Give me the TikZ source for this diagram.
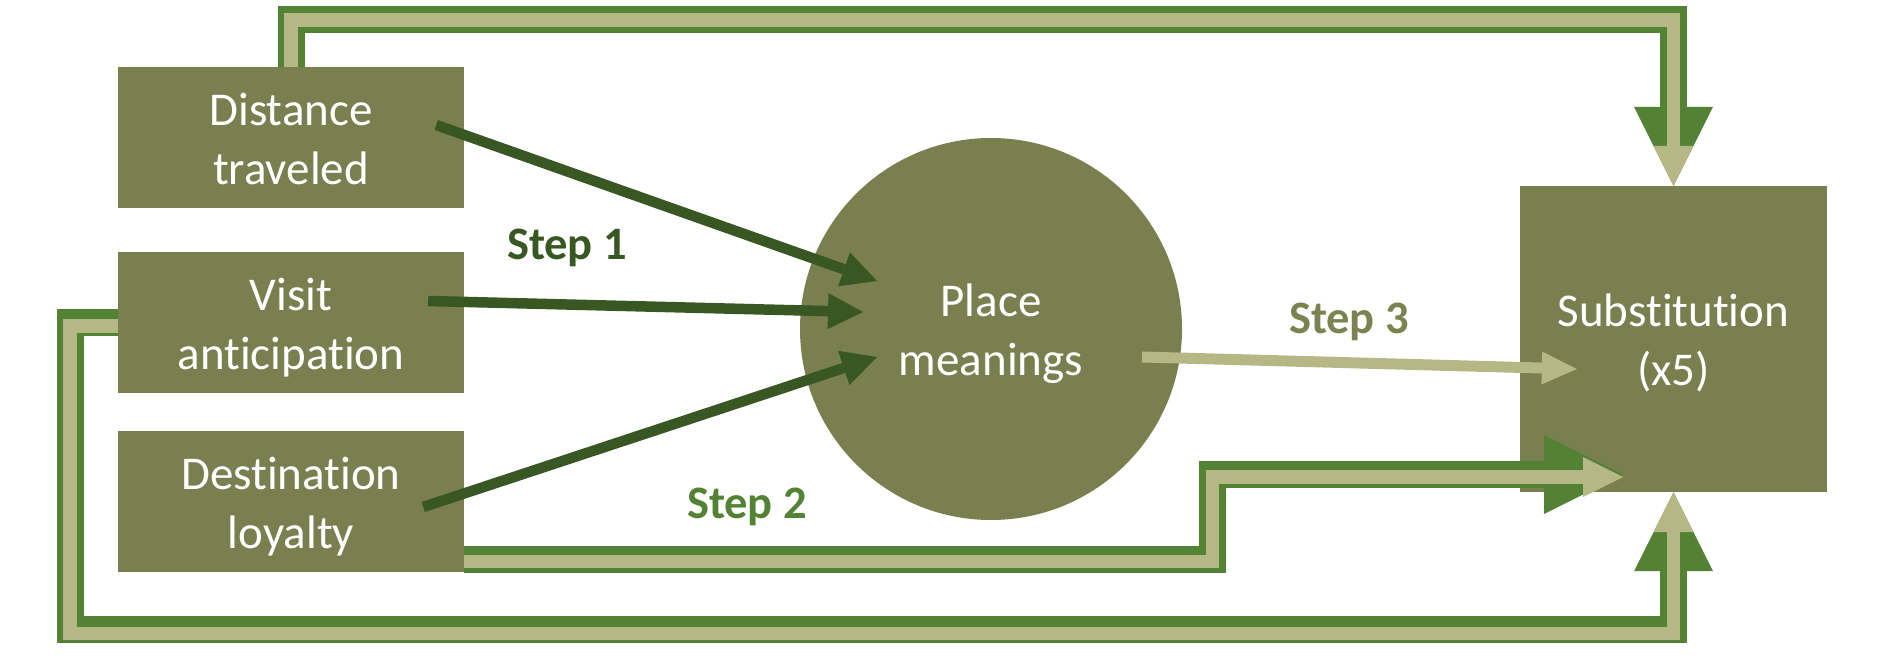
\documentclass[tikz,border=0pt]{standalone}
\usepackage{fontspec}
\setmainfont{Carlito}[Ligatures=NoCommon]
\usetikzlibrary{arrows.meta,calc}
\definecolor{boxc}{HTML}{7A7F50}
\definecolor{darkg}{HTML}{385723}
\definecolor{midg}{HTML}{548235}
\definecolor{lightg}{HTML}{B5B885}
\definecolor{stepthree}{HTML}{7D8251}
\newcommand\tstrut{\rule[-12pt]{0pt}{58pt}}
\begin{document}
\begin{tikzpicture}[x=1pt,y=-1pt,
  boxnode/.style={rectangle, fill=boxc, text=white, align=center, inner sep=0pt,
    minimum width=346pt, minimum height=141pt, font=\fontsize{47}{57}\selectfont},
  bigdark/.style={draw=midg, line width=27pt,
    -{Triangle[length=79pt,width=79pt,line width=0pt]}},
  biglight/.style={draw=lightg, line width=13.5pt,
    -{Triangle[length=40pt,width=40pt,line width=0pt]}},
  steparrow/.style={draw=darkg, line width=10.5pt,
    -{Triangle[length=35pt,width=36pt,line width=0pt]}},
  stepthreearrow/.style={draw=lightg, line width=11pt,
    -{Triangle[length=35pt,width=33pt,line width=0pt]}},
  steplabel/.style={anchor=base, font=\fontsize{46.5}{55}\selectfont\bfseries},
]
\useasboundingbox (0,0) rectangle (1889,658);

% nodes
\node[boxnode] (dt) at (291,137.5) {\tstrut Distance\\traveled\tstrut};
\node[boxnode] (va) at (291,322.5) {\tstrut Visit\\anticipation\tstrut};
\node[boxnode] (dl) at (291,501.5) {\tstrut Destination\\loyalty\tstrut};
\node[circle, fill=boxc, text=white, align=center, inner sep=0pt, minimum size=382pt,
  font=\fontsize{47}{57}\selectfont] (pm) at (991,329) {\tstrut Place\\meanings\tstrut};
\node[rectangle, fill=boxc, text=white, align=center, inner sep=0pt,
  minimum width=307pt, minimum height=306pt,
  font=\fontsize{47}{57}\selectfont] (sub) at (1673.5,339) {\tstrut Substitution\\(x5)\tstrut};

% helper coordinates
\coordinate (topy) at (0,20);
\coordinate (lx) at (70,0);
\coordinate (boty) at (0,629.5);
\coordinate (botyl) at (0,633.5);
\coordinate (s2x) at (1212.5,0);
\coordinate (s2tip) at (1623,474.5);
\coordinate (s2tipl) at (1623,477);

% top loop (distance traveled -> substitution)
\draw[bigdark] (dt.north) -- (dt.north |- topy) -| (sub.north);
\draw[biglight] (dt.north) -- (dt.north |- topy) -| (sub.north);

% left loop (visit anticipation -> substitution)
\draw[bigdark] (va.west) -- (lx |- va.west) -- (lx |- boty) -| (sub.south);
\draw[biglight] ($(va.west)+(0,3.5)$) -- ($(lx |- va.west)+(0,3.5)$) -- (lx |- botyl) -| (sub.south);

% step 2 (destination loyalty -> substitution)
\coordinate (s2a) at ($(dl.south east)+(0,-12.5)$);
\coordinate (s2al) at ($(dl.south east)+(0,-10.5)$);
\draw[bigdark] (s2a) -- (s2x |- s2a) -- (s2x |- s2tip) -- (s2tip);
\draw[biglight] (s2al) -- (s2x |- s2al) -- (s2x |- s2tipl) -- (s2tipl);

% step 1 arrows
\draw[steparrow] ($(dt.east)+(-28,-12.5)$) -- ($(pm.center)+(-114,-48)$);
\draw[steparrow] ($(va.east)+(-36,-21.5)$) -- ($(pm.center)+(-128,-17)$);
\draw[steparrow] ($(dl.east)+(-41,5.5)$) -- ($(pm.center)+(-114,28)$);

% step 3 arrow
\draw[stepthreearrow] ($(pm.center)+(151,28)$) -- ($(sub.west)+(57,30)$);

% labels
\node[steplabel, text=darkg] (s1) at (567,259) {Step 1};
\node[steplabel, text=midg] (s2) at (747,518) {Step 2};
\node[steplabel, text=stepthree] (s3) at (1349,333) {Step 3};
\end{tikzpicture}
\end{document}
